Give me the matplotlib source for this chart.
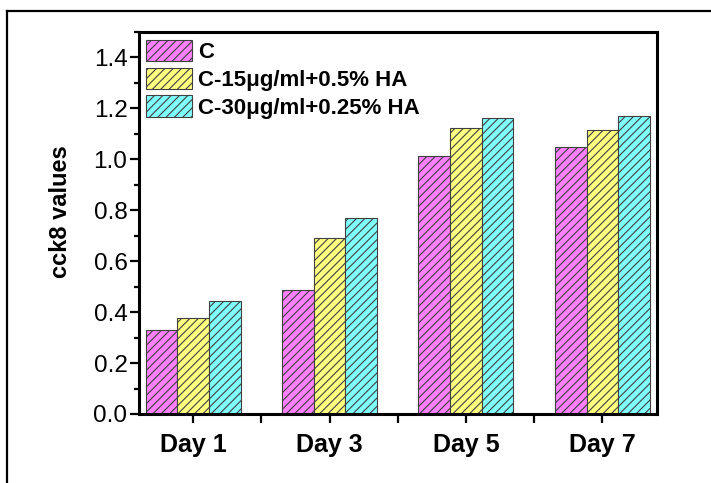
import matplotlib
matplotlib.use("Agg")
import matplotlib.pyplot as plt
from matplotlib.lines import Line2D
from matplotlib.ticker import MultipleLocator, FixedLocator
import numpy as np

days = ["Day 1", "Day 3", "Day 5", "Day 7"]
series_names = ["C", "C-15μg/ml+0.5% HA", "C-30μg/ml+0.25% HA"]
c_vals = [0.331, 0.488, 1.012, 1.049]
c15_vals = [0.377, 0.690, 1.124, 1.115]
c30_vals = [0.443, 0.768, 1.162, 1.172]
colors = ["#FF80FF", "#FFFF80", "#80FFFF"]

plt.rcParams['font.family'] = ['Liberation Sans', 'DejaVu Sans']
plt.rcParams['hatch.linewidth'] = 0.8

W, H = 711, 483
fig = plt.figure(figsize=(W / 100, H / 100), dpi=100)
ax = fig.add_axes([138.5 / W, (H - 414) / H, (657 - 138.5) / W, (414 - 32) / H])

x = np.arange(1, len(days) + 1)
width = 0.232
for i, (vals, name, col) in enumerate(zip([c_vals, c15_vals, c30_vals], series_names, colors)):
    ax.bar(x + (i - 1) * width, vals, width, color=col, edgecolor="#404040",
           linewidth=0.8, hatch="////", label=name)

ax.set_xlim(0.6, 4.4)
ax.set_ylim(0, 1.5)
ax.set_xticks(x)
ax.set_xticklabels(days, fontsize=18, fontweight="bold")
ax.xaxis.set_minor_locator(FixedLocator([1.5, 2.5, 3.5]))
ax.yaxis.set_minor_locator(MultipleLocator(0.1))
ax.set_yticks(np.arange(0, 1.41, 0.2))
ax.set_yticklabels([f"{v:.1f}" for v in np.arange(0, 1.41, 0.2)], fontsize=17.5)
ax.tick_params(axis="both", which="major", direction="out", length=6.5, width=1.6, pad=1.5)
ax.tick_params(axis="y", which="minor", direction="out", length=3.6, width=1.6)
ax.tick_params(axis="x", which="minor", direction="out", length=6.5, width=1.6)
ax.tick_params(axis="x", which="major", pad=7)
for s in ax.spines.values():
    s.set_linewidth(2.2)
ax.set_ylabel("cck8 values", fontsize=17, fontweight="bold")
ax.yaxis.set_label_coords(-0.128, 0.531)

leg = ax.legend(loc="upper left", bbox_to_anchor=(7.5 / 518.5, 1 - 8 / 382), frameon=False,
                prop={"weight": "bold", "size": 16}, handlelength=2.05, handleheight=1.1,
                handletextpad=0.3, labelspacing=0.2, borderpad=0, borderaxespad=0)

# outer frame (left and top edges)
fig.add_artist(Line2D([7 / W, 7 / W], [0, 1 - 11 / H], transform=fig.transFigure, color="black", lw=1.6))
fig.add_artist(Line2D([7 / W, 1], [1 - 11 / H, 1 - 11 / H], transform=fig.transFigure, color="black", lw=1.6))

fig.savefig("out.png", dpi=100)
